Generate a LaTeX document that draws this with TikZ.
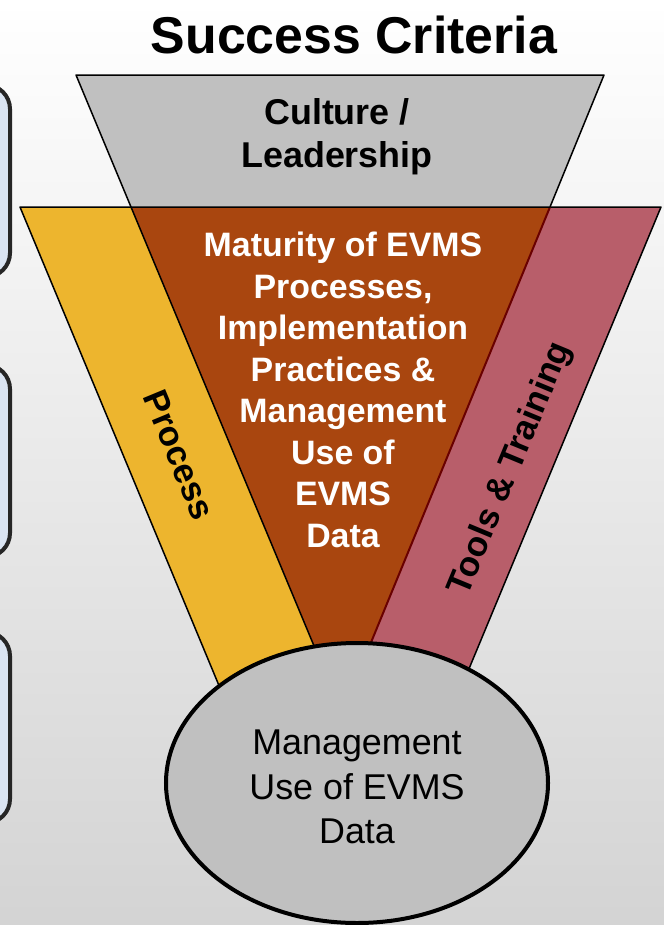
\documentclass[tikz,border=0pt]{standalone}
\usepackage{fontspec}
\setmainfont{Liberation Sans}
\usetikzlibrary{shapes.geometric}

\definecolor{funnelgray}{RGB}{192,192,192}
\definecolor{evmsbrown}{RGB}{169,70,15}
\definecolor{processyellow}{RGB}{237,181,46}
\definecolor{toolsred}{RGB}{184,94,106}
\definecolor{sideblue}{RGB}{218,228,242}
\definecolor{seamred}{RGB}{105,0,0}

\begin{document}
\begin{tikzpicture}[x=1bp,y=-1bp,
    band/.style={draw=black,line width=1.5bp,line join=round},
    sidebox/.style={draw=black!85,line width=4bp,fill=sideblue,rounded corners=24bp},
    bandlabel/.style={font=\bfseries\fontsize{35}{42}\selectfont,inner sep=0pt}]
                \useasboundingbox (0,0) rectangle (664,925);
                \clip (0,0) rectangle (664,925);

                % Background shading
                \shade[top color=white,middle color=black!6,bottom color=black!17]
                    (0,0) rectangle (664,925);

                % Boxes cut off at the left edge
                \foreach \ytop/\ybot in {85/277, 365/557, 632/823} {
                    \draw[sidebox] (-80,\ytop) rectangle (10,\ybot);
                }

                % Funnel bands
                \fill[processyellow] (20,207) -- (131,207) -- (336,700) -- (225,700) -- cycle;
                \fill[toolsred] (550,207) -- (661,207) -- (456,700) -- (347,700) -- cycle;
                \fill[evmsbrown] (131,207) -- (550,207) -- (342,713) -- cycle;
                \draw[band] (225,700) -- (20,207) -- (661,207) -- (456,700);
                \draw[band] (131,207) -- (342,713);
                \draw[seamred,line width=2bp] (550,207) -- (342,713);
                \draw[band,fill=funnelgray] (76,75) -- (604,75) -- (550,207) -- (131,207) -- cycle;

                % Labels
                \node[font=\bfseries\fontsize{52}{60}\selectfont] (title) at (354,35) {Success Criteria};
                \node[align=center,font=\bfseries\fontsize{36}{43}\selectfont] (culture) at (337,137)
                    {Culture /\\Leadership};
                \node[align=center,text=white,font=\bfseries\fontsize{34}{41.7}\selectfont] (maturity) at (343,390)
                    {Maturity of EVMS\\Processes,\\Implementation\\Practices \&\\Management\\Use of\\EVMS\\Data};
                \node[bandlabel,rotate=-67.5] (process) at (179,455) {Process};
                \node[bandlabel,rotate=67.5] (tools) at (511,469) {Tools \& Training};

                % Result at the bottom of the funnel
                \node[ellipse,draw=black,line width=4bp,fill=funnelgray,
                    minimum width=382bp,minimum height=280bp,inner sep=0pt] (mgmtdata) at (357,783) {};
                \node[align=center,font=\fontsize{36}{44.5}\selectfont] (mgmttext) at (357,787)
                    {Management\\Use of EVMS\\Data};

\end{tikzpicture}
\end{document}
